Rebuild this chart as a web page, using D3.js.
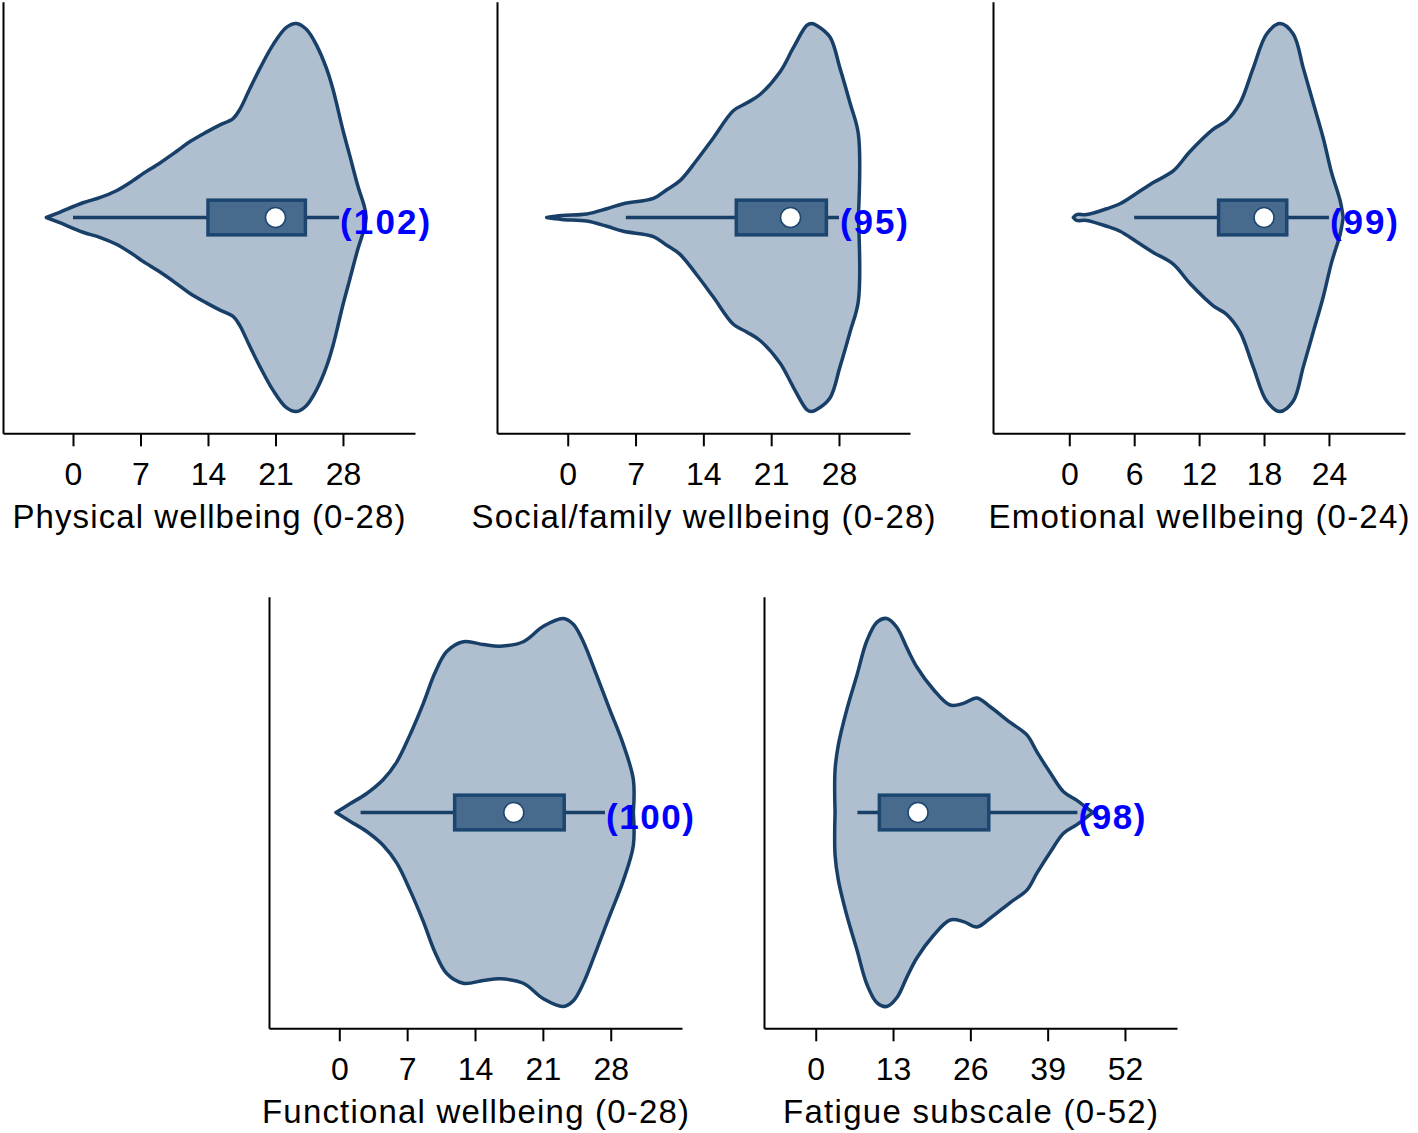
<!DOCTYPE html>
<html><head><meta charset="utf-8">
<script src="https://cdn.jsdelivr.net/npm/d3@7"></script>
<style>html,body{margin:0;padding:0;background:#fff}svg{display:block}</style>
</head><body>
<svg id="chart" width="1418" height="1133"></svg>
<script>
// ---------------- DATA ----------------
const titles = ["Physical wellbeing (0-28)", "Social/family wellbeing (0-28)", "Emotional wellbeing (0-24)",
                "Functional wellbeing (0-28)", "Fatigue subscale (0-52)"];
const tickLabels = [[0,7,14,21,28],[0,7,14,21,28],[0,6,12,18,24],[0,7,14,21,28],[0,13,26,39,52]];
const axisRanges = [[-7.26,35.47],[-7.3,35.33],[-7.05,31.03],[-7.25,35.35],[-8.7,60.75]];
const counts = [102, 95, 99, 100, 98];

// box plot summaries
const whiskerLow  = [0,    6.0,  6.0,  2.2,  7.0];
const quart1      = [14.0, 17.4, 13.8, 11.9, 10.7];
const medians     = [21.0, 23.0, 18.0, 18.0, 17.2];
const quart3      = [24.1, 26.7, 20.1, 23.2, 29.1];
const whiskerHigh = [27.6, 28.0, 24.0, 27.4, 44.0];

// violin outlines: score values and relative density (0..1)
const physicalValues  = [-2.76,-1.38,1.04,2.77,4.5,6.22,7.26,8.99,10.72,12.1,13.83,15.2,16.6,17.29,18.3,19.4,20.74,22.13,23.17,24.2,25.24,26.28,26.97,28.0,28.7,29.56,30.25,30.4];
const physicalDensity = [0,0.027,0.076,0.102,0.138,0.19,0.226,0.28,0.34,0.39,0.44,0.476,0.51,0.556,0.66,0.77,0.89,0.98,1.0,0.97,0.89,0.77,0.66,0.45,0.32,0.16,0.05,0];

const socialValues  = [-2.17,-0.62,1.96,4.03,5.74,8.84,10.22,11.59,13.31,15.03,17.09,18.47,19.85,21.91,23.29,24.67,25.18,25.7,27.07,28.1,29.14,30.0,30.0];
const socialDensity = [0,0.01,0.018,0.045,0.071,0.098,0.143,0.19,0.295,0.41,0.55,0.59,0.634,0.75,0.875,0.99,1.0,0.99,0.93,0.77,0.59,0.43,0];

const emotionalValues  = [0.37,0.68,1.6,3.46,4.69,6.23,7.76,9.61,11.16,13.31,14.55,15.78,17.0,18.24,19.47,20.7,21.63,22.55,23.47,24.25,25.02,25.32];
const emotionalDensity = [0,0.015,0.015,0.045,0.071,0.125,0.18,0.24,0.34,0.455,0.5,0.59,0.77,0.946,1.0,0.946,0.77,0.59,0.41,0.23,0.09,0];

const functionalValues  = [-0.34,1.1,2.83,4.54,5.92,7.29,8.67,9.87,11.08,12.79,14.86,16.58,18.98,21.05,23.11,24.14,25.17,26.56,27.93,29.3,30.33,30.33];
const functionalDensity = [0,0.045,0.098,0.17,0.26,0.40,0.5625,0.72,0.83,0.88,0.866,0.857,0.88,0.96,1.0,0.97,0.88,0.705,0.527,0.35,0.17,0];

const fatigueValues  = [3.25,3.25,3.81,5.22,6.9,8.58,10.27,11.95,13.63,15.31,17.0,19.79,22.6,24.84,27.1,29.33,32.7,35.51,37.19,39.43,41.67,43.92,46.16,46.7];
const fatigueDensity = [0,0.22,0.35,0.53,0.705,0.884,0.98,1.0,0.955,0.85,0.75,0.634,0.554,0.5625,0.59,0.545,0.464,0.40,0.3125,0.205,0.107,0.0625,0.01,0];

const violinValues  = [physicalValues, socialValues, emotionalValues, functionalValues, fatigueValues];
const violinDensity = [physicalDensity, socialDensity, emotionalDensity, functionalDensity, fatigueDensity];

// ---------------- LAYOUT / STYLE ----------------
const frames = [
  {x0:3,   x1:415,  y0:1.7,   y1:433.3},
  {x0:497, x1:910,  y0:1.7,   y1:433.3},
  {x0:993, x1:1405, y0:1.7,   y1:433.3},
  {x0:269, x1:682,  y0:596.7, y1:1028.3},
  {x0:764, x1:1177, y0:596.7, y1:1028.3}
];
const titleWidths = [393, 464, 421, 427, 375];
const labelWidths = [90, 68, 68, 88, 67];
const FONT = "'Liberation Sans', Arial, sans-serif";
const C_FILL = "#afbfcf", C_LINE = "#183f68", C_BOX = "#486a8d", C_BOXLINE = "#1c4670";

const svg = d3.select("#chart");

frames.forEach((f, i) => {
  const g = svg.append("g");
  const x = d3.scaleLinear().domain(axisRanges[i]).range([f.x0, f.x1]);
  const yAxisScale = d3.scaleLinear().domain([0, 1]).range([f.y1, f.y0]);
  const cy = (f.y0 + f.y1) / 2;
  const hw = d3.scaleLinear().domain([0, 1]).range([0, 0.4495 * (f.y1 - f.y0)]);
  const boxH = 0.0402 * (f.y1 - f.y0);

  const pts = violinValues[i].map((v, k) => ({v, d: violinDensity[i][k]}));
  const area = d3.area()
    .x(d => x(d.v))
    .y0(d => cy - hw(d.d))
    .y1(d => cy + hw(d.d))
    .curve(d3.curveCatmullRom.alpha(0.5));
  g.append("path").datum(pts).attr("d", area)
    .attr("fill", C_FILL).attr("stroke", C_LINE).attr("stroke-width", 3.5)
    .attr("stroke-linejoin", "round");

  // whiskers
  g.append("line")
    .attr("x1", x(whiskerLow[i])).attr("x2", x(whiskerHigh[i]))
    .attr("y1", cy).attr("y2", cy)
    .attr("stroke", C_LINE).attr("stroke-width", 3.5);
  // box
  g.append("rect")
    .attr("x", x(quart1[i])).attr("width", x(quart3[i]) - x(quart1[i]))
    .attr("y", cy - boxH).attr("height", 2 * boxH)
    .attr("fill", C_BOX).attr("stroke", C_BOXLINE).attr("stroke-width", 3.5);
  // median
  g.append("circle")
    .attr("cx", x(medians[i])).attr("cy", cy).attr("r", 10)
    .attr("fill", "#fff").attr("stroke", C_BOXLINE).attr("stroke-width", 1.5);
  // count label
  g.append("text")
    .attr("x", x(whiskerHigh[i]) + 1).attr("y", cy + 16)
    .attr("font-family", FONT).attr("font-weight", "bold").attr("font-size", 35)
    .attr("fill", "#0000ff")
    .attr("textLength", labelWidths[i]).attr("lengthAdjust", "spacing")
    .text("(" + counts[i] + ")");

  // axes
  const xa = g.append("g").attr("transform", `translate(0,${f.y1})`)
    .call(d3.axisBottom(x).tickValues(tickLabels[i]).tickSize(13).tickSizeOuter(0));
  xa.select(".domain").attr("stroke", "#000").attr("stroke-width", 2);
  xa.selectAll(".tick line").attr("stroke", "#000").attr("stroke-width", 2);
  xa.selectAll(".tick text").attr("y", 51.7).attr("dy", 0)
    .attr("font-family", FONT).attr("font-size", 32).attr("fill", "#000");

  const ya = g.append("g").attr("transform", `translate(${f.x0},0)`)
    .call(d3.axisLeft(yAxisScale).tickValues([]).tickSizeOuter(0));
  ya.select(".domain").attr("stroke", "#000").attr("stroke-width", 2);

  g.append("text")
    .attr("x", (f.x0 + f.x1) / 2).attr("y", f.y1 + 94.5)
    .attr("text-anchor", "middle")
    .attr("font-family", FONT).attr("font-size", 33).attr("fill", "#000")
    .attr("textLength", titleWidths[i]).attr("lengthAdjust", "spacing")
    .text(titles[i]);
});
</script>
</body></html>
